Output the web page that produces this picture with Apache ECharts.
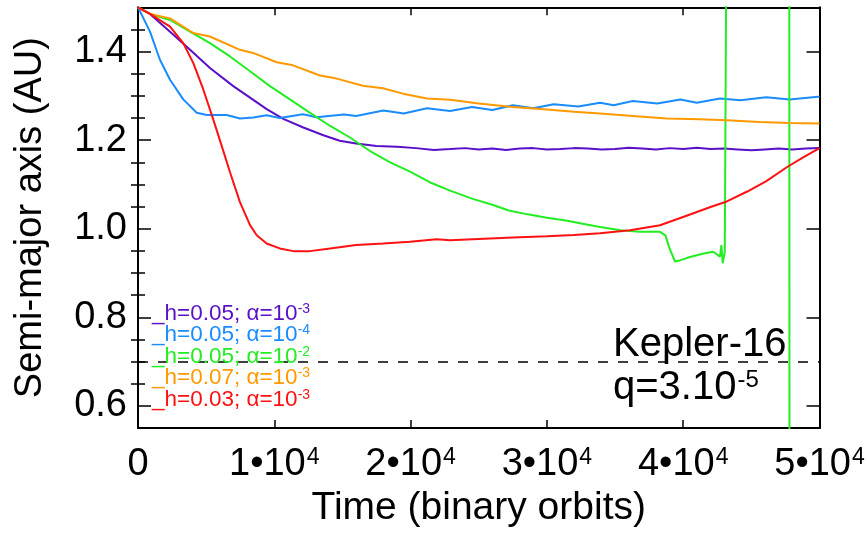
<!DOCTYPE html>
<html>
<head>
<meta charset="utf-8">
<script src="https://cdn.jsdelivr.net/npm/echarts@6/dist/echarts.min.js"></script>
<style>
  html, body { margin: 0; padding: 0; background: #fff; }
  #chart { width: 868px; height: 533px; }
</style>
</head>
<body>
<div id="chart"></div>
<script>
// Planet migration runs around Kepler-16.
// Time in thousands of binary orbits, semi-major axis in AU.
const runPurple = [
  [0, 1.5], [0.88, 1.485], [2.35, 1.445], [3.82, 1.404], [5.28, 1.363], [6.99, 1.322],
  [8.22, 1.296], [9.44, 1.270], [10.66, 1.248], [12.13, 1.2285], [13.6, 1.211],
  [14.8, 1.1985], [16.0, 1.1926], [17.5, 1.187], [19.0, 1.185], [20.4, 1.182],
  [21.7, 1.178], [22.9, 1.180], [24.0, 1.182], [25.0, 1.179], [26.0, 1.181], [27.0, 1.178],
  [28.0, 1.181], [29.0, 1.182], [30.0, 1.179], [31.0, 1.180], [32.0, 1.182], [33.0, 1.181],
  [34.0, 1.179], [35.0, 1.180], [36.0, 1.183], [37.0, 1.181], [38.0, 1.179], [39.0, 1.182],
  [40.0, 1.180], [41.0, 1.183], [42.0, 1.180], [43.0, 1.181], [44.0, 1.179], [45.0, 1.177],
  [46.0, 1.179], [47.0, 1.181], [48.0, 1.179], [49.0, 1.181], [50.0, 1.182]
];
const runBlue = [
  [0, 1.5], [0.88, 1.445], [1.61, 1.3815], [2.35, 1.3365], [3.32, 1.292], [4.31, 1.262],
  [5.04, 1.2567], [6.51, 1.2567], [7.48, 1.249], [8.46, 1.251], [9.44, 1.256],
  [10.4, 1.250], [12.1, 1.2584], [13.1, 1.2516], [15.1, 1.258], [16.0, 1.2545],
  [18.0, 1.267], [19.5, 1.260], [21.2, 1.272], [22.9, 1.266], [24.5, 1.275],
  [26.0, 1.268], [27.5, 1.279], [29.0, 1.272], [30.5, 1.281], [32.3, 1.276],
  [33.9, 1.2846], [34.9, 1.2786], [36.3, 1.2882], [38.1, 1.283], [39.8, 1.292],
  [41.0, 1.2846], [42.7, 1.294], [44.2, 1.290], [46.1, 1.297], [47.8, 1.292],
  [49.9, 1.298], [50.0, 1.298]
];
const runGreen = [
  [0, 1.5], [0.88, 1.485], [2.35, 1.4715], [3.82, 1.445], [5.28, 1.419], [6.75, 1.389],
  [8.22, 1.3555], [9.68, 1.322], [11.15, 1.292], [12.6, 1.262], [14.1, 1.232],
  [15.55, 1.206], [17.0, 1.176], [18.5, 1.150], [19.96, 1.129], [21.4, 1.105],
  [22.9, 1.086], [24.5, 1.068], [26.0, 1.054], [27.2, 1.041], [28.5, 1.033],
  [30.0, 1.025], [31.5, 1.018], [33.0, 1.009], [33.9, 1.004], [35.4, 0.9965],
  [36.8, 0.993], [38.3, 0.993], [38.7, 0.985], [39.0, 0.9555], [39.4, 0.926],
  [39.8, 0.929], [40.5, 0.936], [41.5, 0.944], [42.2, 0.948], [42.7, 0.937],
  [42.8, 0.963], [42.9, 0.922], [43.05, 0.948],
  // the planet is ejected, then falls back in
  [43.23, 2.0], [47.78, 2.0], [47.80, 0.3]
];
const runOrange = [
  [0, 1.5], [0.88, 1.485], [2.35, 1.475], [4.06, 1.442], [5.28, 1.434], [7.48, 1.404],
  [8.44, 1.397], [10.18, 1.376], [11.37, 1.369], [13.35, 1.346], [14.58, 1.339],
  [16.5, 1.323], [17.97, 1.317], [19.44, 1.305], [21.2, 1.294], [22.9, 1.291],
  [25.0, 1.283], [27.5, 1.275], [30.0, 1.269], [32.0, 1.264], [33.9, 1.260],
  [36.3, 1.2545], [38.8, 1.249], [41.2, 1.247], [43.2, 1.245], [45.6, 1.241],
  [47.8, 1.239], [50.0, 1.2375]
];
const runRed = [
  [0, 1.5], [0.88, 1.485], [2.35, 1.4565], [3.32, 1.419], [4.06, 1.374], [4.79, 1.3145],
  [5.52, 1.247], [6.14, 1.187], [6.75, 1.1275], [7.48, 1.060], [8.22, 1.008],
  [8.71, 0.9853], [9.44, 0.9667], [10.4, 0.9555], [11.4, 0.9494], [12.6, 0.9494],
  [14.1, 0.9555], [16.0, 0.963], [18.0, 0.9667], [19.96, 0.9705], [21.9, 0.9764],
  [22.9, 0.9741], [25.0, 0.977], [27.5, 0.980], [30.0, 0.983], [32.0, 0.986],
  [33.9, 0.990], [36.1, 0.9965], [38.3, 1.0078], [40.5, 1.032], [42.0, 1.049],
  [43.2, 1.0616], [44.7, 1.084], [46.1, 1.1074], [47.6, 1.1388], [48.8, 1.161], [50.0, 1.182]
];

const runs = [runPurple, runBlue, runGreen, runOrange, runRed];
const runAspect = ['0.05', '0.05', '0.05', '0.07', '0.03'];
const runViscExp = ['-3', '-4', '-2', '-3', '-3'];
const runColors = ['#5a0fc8', '#1a8cff', '#22ee22', '#ff9900', '#ff1111'];

const xTickValues = [0, 10000, 20000, 30000, 40000, 50000];
const yMajorTicks = [0.6, 0.8, 1.0, 1.2, 1.4];
const yMinorTicks = [0.65, 0.7, 0.75, 0.85, 0.9, 0.95, 1.05, 1.1, 1.15, 1.25, 1.3, 1.35, 1.45];
const stabilityLimit = 0.7;

const FONT = 'Liberation Sans, Arial, Helvetica, sans-serif';
const black = '#000';

const supStyle = (size, pad) => ({ fontSize: size, fontFamily: FONT, verticalAlign: 'top', padding: pad });

const chart = echarts.init(document.getElementById('chart'), null, { renderer: 'canvas' });

const grid = { left: 138, right: 48.5, top: 7.3, bottom: 102.3, containLabel: false };

const baseX = {
  type: 'value', min: 0, max: 50000, interval: 10000,
  axisLine: { show: true, onZero: false, lineStyle: { color: black, width: 2 } },
  axisTick: { show: true, inside: true, length: 8, lineStyle: { color: black, width: 1.5 } },
  splitLine: { show: false }
};
const baseY = {
  type: 'value', min: 0.55, max: 1.5,
  axisLine: { show: true, onZero: false, lineStyle: { color: black, width: 2 } },
  splitLine: { show: false }
};

const option = {
  animation: false,
  backgroundColor: '#fff',
  grid,
  xAxis: [
    Object.assign({}, baseX, {
      position: 'bottom',
      name: 'Time (binary orbits)',
      nameLocation: 'middle',
      nameGap: 61,
      nameTextStyle: { fontSize: 39, fontFamily: FONT, color: black },
      axisLabel: {
        show: true, margin: 18, color: black, fontSize: 38, fontFamily: FONT,
        formatter: v => v === 0 ? '0' : `${v / 10000}•10{sup|4}`,
        rich: { sup: supStyle(23, [0, 0, 0, 1]) }
      }
    }),
    Object.assign({}, baseX, { position: 'top', axisLabel: { show: false } })
  ],
  yAxis: [
    Object.assign({}, baseY, {
      position: 'left',
      name: 'Semi-major axis (AU)',
      nameLocation: 'middle',
      nameRotate: 90,
      nameGap: 88,
      nameTextStyle: { fontSize: 38, fontFamily: FONT, color: black },
      axisTick: { show: true, inside: true, length: 13, customValues: yMajorTicks, lineStyle: { color: black, width: 1.5 } },
      axisLabel: { show: true, margin: 11, color: black, fontSize: 38, fontFamily: FONT, customValues: yMajorTicks, formatter: v => v.toFixed(1) }
    }),
    Object.assign({}, baseY, {
      position: 'right',
      axisTick: { show: true, inside: true, length: 13, customValues: yMajorTicks, lineStyle: { color: black, width: 1.5 } },
      axisLabel: { show: false }
    }),
    Object.assign({}, baseY, {
      position: 'left',
      axisLine: { show: false },
      axisTick: { show: true, inside: true, length: 7, customValues: yMinorTicks, lineStyle: { color: black, width: 1.5 } },
      axisLabel: { show: false }
    }),
    Object.assign({}, baseY, {
      position: 'right',
      axisLine: { show: false },
      axisTick: { show: true, inside: true, length: 7, customValues: yMinorTicks, lineStyle: { color: black, width: 1.5 } },
      axisLabel: { show: false }
    })
  ],
  series: runs.map((run, i) => ({
    type: 'line',
    name: `h=${runAspect[i]}`,
    xAxisIndex: 0,
    yAxisIndex: 0,
    data: run.map(([t, a]) => [t * 1000, a]),
    showSymbol: false,
    symbol: 'none',
    clip: true,
    lineStyle: { color: runColors[i], width: 2 },
    z: 2 + i,
    markLine: i === 0 ? {
      silent: true,
      symbol: ['none', 'none'],
      label: { show: false },
      lineStyle: { color: black, width: 1.5, type: [10, 10] },
      data: [{ yAxis: stabilityLimit }]
    } : undefined
  })),
  graphic: [
    ...runs.map((run, i) => ({
      type: 'text',
      left: 152,
      top: 302 + i * 21.5,
      z: 20,
      style: {
        text: `_h=${runAspect[i]}; α=10{sup|${runViscExp[i]}}`,
        fontSize: 22.5,
        fontFamily: FONT,
        fill: runColors[i],
        rich: { sup: supStyle(14, [0, 0, 0, 0]) }
      }
    })),
    {
      type: 'text', left: 613, top: 325, z: 20,
      style: { text: 'Kepler-16', fontSize: 40, fontFamily: FONT, fill: black }
    },
    {
      type: 'text', left: 613, top: 368, z: 20,
      style: {
        text: 'q=3.10{sup|-5}', fontSize: 40, fontFamily: FONT, fill: black,
        rich: { sup: supStyle(24, [0, 0, 0, 1]) }
      }
    }
  ]
};

chart.setOption(option);
</script>
</body>
</html>
